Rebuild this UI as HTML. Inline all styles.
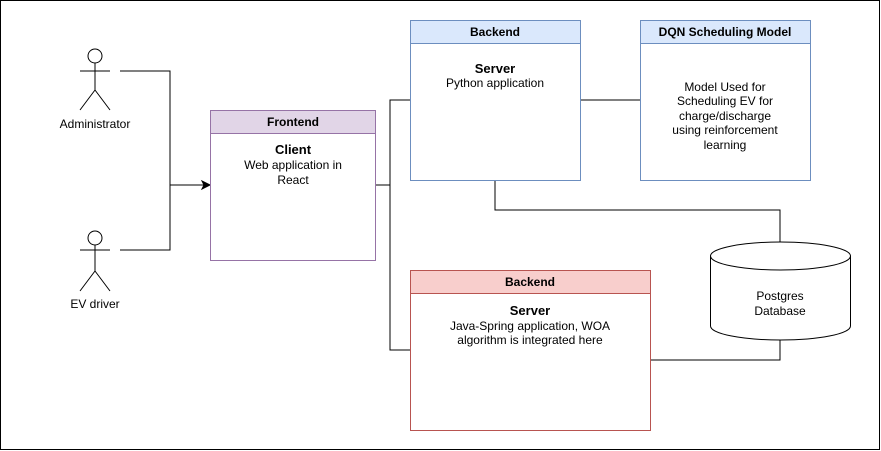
<!DOCTYPE html>
<html><head><meta charset="utf-8"><style>html,body{margin:0;padding:0;background:#fff}svg{display:block}text{font-family:"Liberation Sans",Arial,sans-serif;font-size:12px;fill:#000}</style></head><body>
<svg width="881" height="451" viewBox="0 0 881 451" xmlns="http://www.w3.org/2000/svg">
<rect x="0.5" y="0.5" width="879" height="449" fill="#fff" stroke="#000"/>
<g stroke="#000" fill="none" stroke-width="1">
<circle cx="95" cy="56" r="7" fill="#fff"/>
<path d="M95 63V90M80 71H110M95 90L80 110M95 90L110 110"/>
<circle cx="95" cy="238" r="7" fill="#fff"/>
<path d="M95 245V271M80 250H110M95 271L80 291M95 271L110 291"/>
<path d="M120 71H170V250H120M170 185H204"/>
<path d="M375 185H390V100H410M390 185V350H410"/>
<path d="M580 100H640"/>
<path d="M495 180V210H780V242"/>
<path d="M650 360H780V340"/>
</g>
<path d="M210 185L202 181L204 185L202 189Z" fill="#000" stroke="#000"/>
<text x="95" y="128" text-anchor="middle">Administrator</text>
<text x="95" y="308" text-anchor="middle">EV driver</text>
<rect x="210.5" y="110.5" width="165" height="150" fill="#fff" stroke="#9673a6"/>
<rect x="210.5" y="110.5" width="165" height="23" fill="#e1d5e7" stroke="#9673a6"/>
<text x="293" y="126" text-anchor="middle" font-weight="bold">Frontend</text>
<text x="293" y="154" text-anchor="middle" font-weight="bold" style="font-size:13px">Client</text>
<text x="293" y="169" text-anchor="middle">Web application in</text>
<text x="293" y="184" text-anchor="middle">React</text>
<rect x="410.5" y="20.5" width="170" height="160" fill="#fff" stroke="#6c8ebf"/>
<rect x="410.5" y="20.5" width="170" height="23" fill="#dae8fc" stroke="#6c8ebf"/>
<text x="495" y="36" text-anchor="middle" font-weight="bold">Backend</text>
<text x="495" y="73" text-anchor="middle" font-weight="bold" style="font-size:13px">Server</text>
<text x="495" y="87" text-anchor="middle">Python application</text>
<rect x="640.5" y="20.5" width="170" height="160" fill="#fff" stroke="#6c8ebf"/>
<rect x="640.5" y="20.5" width="170" height="23" fill="#dae8fc" stroke="#6c8ebf"/>
<text x="725" y="36" text-anchor="middle" font-weight="bold">DQN Scheduling Model</text>
<text x="725" y="91" text-anchor="middle">Model Used for</text>
<text x="725" y="105" text-anchor="middle">Scheduling EV for</text>
<text x="725" y="120" text-anchor="middle">charge/discharge</text>
<text x="725" y="134" text-anchor="middle">using reinforcement</text>
<text x="725" y="149" text-anchor="middle">learning</text>
<rect x="410.5" y="270.5" width="240" height="160" fill="#fff" stroke="#b85450"/>
<rect x="410.5" y="270.5" width="240" height="23" fill="#f8cecc" stroke="#b85450"/>
<text x="530" y="286" text-anchor="middle" font-weight="bold">Backend</text>
<text x="530" y="315" text-anchor="middle" font-weight="bold" style="font-size:13px">Server</text>
<text x="530" y="330" text-anchor="middle">Java-Spring application, WOA</text>
<text x="530" y="344" text-anchor="middle">algorithm is integrated here</text>
<path d="M710.5 256V326A70 14 0 0 0 850.5 326V256A70 14 0 0 0 710.5 256Z" fill="#fff" stroke="#000"/>
<path d="M710.5 256A70 14 0 0 0 850.5 256" fill="none" stroke="#000"/>
<text x="780" y="300" text-anchor="middle">Postgres</text>
<text x="780" y="315" text-anchor="middle">Database</text>
</svg>
</body></html>
